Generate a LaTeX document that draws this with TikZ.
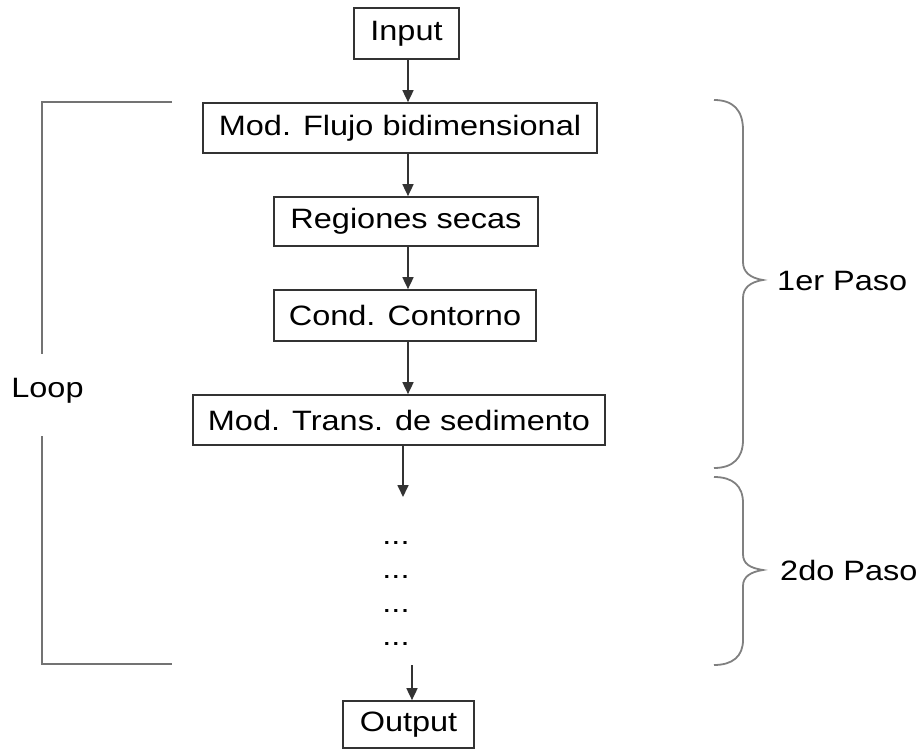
\documentclass[tikz,border=0pt]{standalone}
\usepackage{fontspec}
\setmainfont{Liberation Sans}[FakeStretch=1.16]
\usetikzlibrary{arrows.meta}
\begin{document}
\begin{tikzpicture}[x=1pt,y=-1pt,
  font=\fontsize{28}{34}\selectfont,
  box/.style={draw=black!80, line width=1.7pt, fill=white, inner sep=0pt, text=black},
  arr/.style={draw=black!80, line width=1.7pt, -{Triangle[width=11pt,length=12pt]}},
  grayline/.style={draw=black!55, line width=2.2pt},
  brc/.style={draw=black!50, line width=1.8pt},
  lbl/.style={inner sep=0pt, text=black}]
\useasboundingbox (0,0) rectangle (919,751);

% flow boxes
\node[box, minimum width=105pt, minimum height=51pt] (input)    at (406.5,33.5) {Input};
\node[box, minimum width=394pt, minimum height=50pt] (flujo)    at (400,128)    {Mod. Flujo bidimensional};
\node[box, minimum width=264pt, minimum height=49pt] (regiones) at (406,221.5)  {Regiones secas};
\node[box, minimum width=262pt, minimum height=51pt] (cond)     at (405,315.5)  {Cond. Contorno};
\node[box, minimum width=412pt, minimum height=50pt] (trans)    at (399,420)    {Mod. Trans. de sedimento};
\node[box, minimum width=131pt, minimum height=47pt] (output)   at (408.5,724.5) {Output};

% vertical spine of the arrows
\coordinate (spine) at (408,0);
\coordinate (t1) at (403,497);
\coordinate (o1) at (412,665);

\draw[arr] (input.south -| spine) -- (flujo.north -| spine);
\draw[arr] (flujo.south -| spine) -- (regiones.north -| spine);
\draw[arr] (regiones.south -| spine) -- (cond.north -| spine);
\draw[arr] (cond.south -| spine) -- (trans.north -| spine);
\draw[arr] (trans.south -| t1) -- (t1);
\draw[arr] (o1) -- (output.north -| o1);

% further steps
\node[lbl, anchor=base] (d1) at (396,544) {...};
\node[lbl, anchor=base] (d2) at (396,578) {...};
\node[lbl, anchor=base] (d3) at (396,612) {...};
\node[lbl, anchor=base] (d4) at (396,645) {...};

% loop bracket
\node[lbl] (loop) at (47.5,391) {Loop};
\coordinate (lt) at (172,102);
\coordinate (lb) at (172,664);
\draw[grayline] (lt) -- (42,102) -- (42,354);
\draw[grayline] (42,436) -- (42,664) -- (lb);

% braces for the passes
\draw[brc] (714,100) .. controls (733,100) and (743,110) .. (743,130)
  -- (743,262) .. controls (743,272) and (750,278) .. (763,280)
  .. controls (750,282) and (743,288) .. (743,298)
  -- (743,440) .. controls (743,458) and (733,468) .. (714,468);
\node[lbl, anchor=west] (paso1) at (777,281) {1er Paso};

\draw[brc] (714,477) .. controls (733,477) and (743,486) .. (743,503)
  -- (743,554) .. controls (743,564) and (750,568) .. (763,570)
  .. controls (750,572) and (743,577) .. (743,586)
  -- (743,640) .. controls (743,656) and (733,665) .. (714,665);
\node[lbl, anchor=west] (paso2) at (780,570) {2do Paso};
\end{tikzpicture}
\end{document}
